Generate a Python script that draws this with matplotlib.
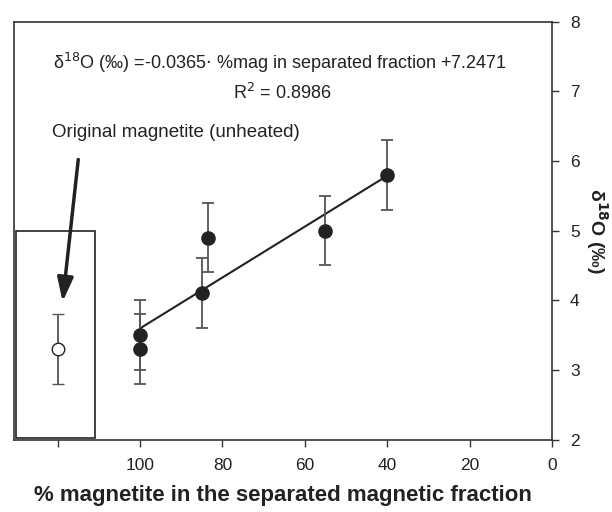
import matplotlib
matplotlib.use("Agg")
import matplotlib.pyplot as plt
from matplotlib.patches import Rectangle
import numpy as np

plt.rcParams['font.family'] = ['Liberation Sans', 'DejaVu Sans']

# Data
x_sep = [100, 100, 85, 83.5, 55, 40]
y_sep = [3.5, 3.3, 4.1, 4.9, 5.0, 5.8]
err_sep = [0.5, 0.5, 0.5, 0.5, 0.5, 0.5]
x_orig = [120]
y_orig = [3.3]
err_orig = [0.5]
slope, intercept = -0.0365, 7.2471
fit_x = [100, 40]
xticks = [120, 100, 80, 60, 40, 20, 0]
xticklabels = ['', '100', '80', '60', '40', '20', '0']
yticks = [2, 3, 4, 5, 6, 7, 8]

fig = plt.figure(figsize=(6.12, 5.12), dpi=100)
ax = fig.add_axes([14/612, 1-439.7/512, (552-14)/612, (439.7-21.5)/512])

dark = '#222222'
ecol = '#555555'
ax.errorbar(x_sep, y_sep, yerr=err_sep, fmt='o', color=dark, ms=9.5,
            ecolor=ecol, elinewidth=1.3, capsize=4, capthick=1.3, zorder=3)
ax.errorbar(x_orig, y_orig, yerr=err_orig, fmt='o', mfc='white', mec=dark,
            mew=1.0, ms=9, ecolor=ecol, elinewidth=1.3, capsize=4, capthick=1.3, zorder=3)
fx = np.array(fit_x, dtype=float)
ax.plot(fx, slope*fx + intercept, color=dark, lw=1.5, zorder=2)

ax.add_patch(Rectangle((130, 2.03), 111 - 130, 5.0 - 2.03, fill=False,
                       edgecolor=dark, lw=1.2, zorder=1))

ax.annotate('', xy=(118.8, 3.98), xytext=(115.0, 6.02),
            arrowprops=dict(arrowstyle='-|>,head_width=0.3,head_length=0.9', color=dark, lw=2.5,
                            mutation_scale=16, shrinkA=0, shrinkB=0))
ax.text(121.4, 6.41, 'Original magnetite (unheated)', fontsize=13.5,
        ha='left', va='center', color=dark)
ax.text(66, 7.40, 'δ$^{18}$O (‰) =-0.0365$\\cdot$ %mag in separated fraction +7.2471',
        fontsize=13, ha='center', va='center', color=dark)
ax.text(65.5, 6.97, r'R$^{2}$ = 0.8986', fontsize=13, ha='center', va='center', color=dark)

ax.set_xlim(130.6, 0)
ax.set_ylim(2, 8)
ax.set_xticks(xticks)
ax.set_xticklabels(xticklabels)
ax.set_yticks(yticks)
ax.yaxis.tick_right()
ax.yaxis.set_label_position('right')
ax.tick_params(axis='both', direction='out', length=5, width=1, colors='#333333',
               labelsize=12.5, pad=8)
ax.tick_params(axis='y', labelcolor=dark)
ax.tick_params(axis='x', labelcolor=dark)
for s in ax.spines.values():
    s.set_color('#333333')
    s.set_linewidth(1.2)

ax.set_xlabel('% magnetite in the separated magnetic fraction', fontsize=16,
              fontweight='bold', color=dark, labelpad=9)
ax.set_ylabel('δ$^{\\mathbf{18}}$O (‰)', fontsize=14, fontweight='bold',
              rotation=270, color=dark, labelpad=22)

fig.savefig('out.png', dpi=100)
